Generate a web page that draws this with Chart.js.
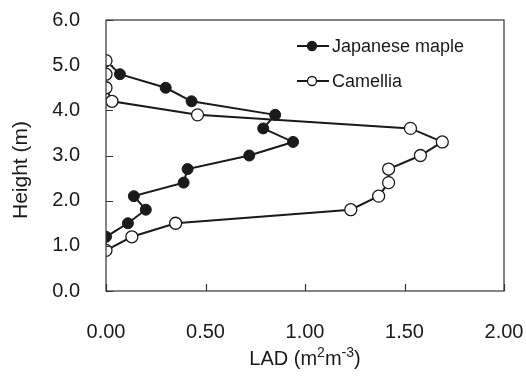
<!DOCTYPE html>
<html>
<head>
<meta charset="utf-8">
<script src="https://cdn.jsdelivr.net/npm/chart.js@4/dist/chart.umd.min.js"></script>
<style>
  html, body { margin: 0; padding: 0; background: #fff; }
  #wrap { width: 526px; height: 378px; position: relative; }
</style>
</head>
<body>
<div id="wrap"><canvas id="c"></canvas></div>
<script>
// LAD profiles, heights in m
const heights = [5.1, 4.8, 4.5, 4.2, 3.9, 3.6, 3.3, 3.0, 2.7, 2.4, 2.1, 1.8, 1.5, 1.2, 0.9];
const mapleLAD = [0.00, 0.07, 0.30, 0.43, 0.85, 0.79, 0.94, 0.72, 0.41, 0.39, 0.14, 0.20, 0.11, 0.00, 0.00];
const camelliaLAD = [0.00, 0.00, 0.00, 0.03, 0.46, 1.53, 1.69, 1.58, 1.42, 1.42, 1.37, 1.23, 0.35, 0.13, 0.00];
const xTicks = [0, 0.5, 1.0, 1.5, 2.0];
const yTicks = [0, 1, 2, 3, 4, 5, 6];
const seriesNames = ['Japanese maple', 'Camellia'];
// x title pieces, superscripts flagged
const xTitle = [['LAD (m', false], ['2', true], ['m', false], ['-3', true], [')', false]];
const yTitle = 'Height (m)';

const FONT = "'Liberation Sans', Arial, sans-serif";
const INK = '#1a1a1a';

function toPoints(xs) {
  return xs.map((v, i) => ({ x: v, y: heights[i] }));
}

// tick label paddings would otherwise push the plot area in
function clearPadding(s) {
  s.paddingTop = s.paddingBottom = s.paddingLeft = s.paddingRight = 0;
}

function drawRich(ctx, parts, cx, cy) {
  const base = '20px ' + FONT, sup = '14px ' + FONT;
  let w = 0;
  for (const [t, s] of parts) { ctx.font = s ? sup : base; w += ctx.measureText(t).width; }
  let x = cx - w / 2;
  ctx.textAlign = 'left';
  for (const [t, s] of parts) {
    ctx.font = s ? sup : base;
    ctx.fillText(t, x, s ? cy - 6 : cy);
    x += ctx.measureText(t).width;
  }
}

// box around plot, inward tick marks, axis titles and legend
const decor = {
  id: 'decor',
  afterDraw(chart) {
    const { ctx, chartArea: a, scales } = chart;
    ctx.save();
    ctx.strokeStyle = '#333';
    ctx.lineWidth = 1.2;
    ctx.strokeRect(a.left, a.top, a.right - a.left, a.bottom - a.top);
    ctx.beginPath();
    for (const v of xTicks) {
      const px = Math.round(scales.x.getPixelForValue(v)) + 0.5;
      ctx.moveTo(px, a.bottom);
      ctx.lineTo(px, a.bottom - 7);
    }
    for (const v of yTicks) {
      const py = Math.round(scales.y.getPixelForValue(v)) + 0.5;
      ctx.moveTo(a.left, py);
      ctx.lineTo(a.left + 7, py);
    }
    ctx.stroke();

    // axis titles
    ctx.fillStyle = INK;
    ctx.textBaseline = 'middle';
    drawRich(ctx, xTitle, (a.left + a.right) / 2, 359);
    ctx.save();
    ctx.translate(21, 170);
    ctx.rotate(-Math.PI / 2);
    ctx.font = '21px ' + FONT;
    ctx.textAlign = 'center';
    ctx.fillText(yTitle, 0, 0);
    ctx.restore();

    // legend
    const rows = [
      { y: 46, fill: INK },
      { y: 81, fill: '#fff' },
    ];
    ctx.font = '18px ' + FONT;
    ctx.textAlign = 'left';
    rows.forEach((r, i) => {
      ctx.strokeStyle = INK;
      ctx.lineWidth = 2;
      ctx.beginPath();
      ctx.moveTo(297, r.y);
      ctx.lineTo(329, r.y);
      ctx.stroke();
      ctx.beginPath();
      ctx.arc(312, r.y, 4.5, 0, Math.PI * 2);
      ctx.fillStyle = r.fill;
      ctx.fill();
      ctx.lineWidth = 1.3;
      ctx.stroke();
      ctx.fillStyle = INK;
      ctx.fillText(seriesNames[i], 332, r.y + 1);
    });
    ctx.restore();
  }
};

new Chart(document.getElementById('c'), {
  type: 'scatter',
  data: {
    datasets: [
      {
        label: seriesNames[0],
        data: toPoints(mapleLAD),
        showLine: true,
        borderColor: INK,
        borderWidth: 2,
        pointBackgroundColor: INK,
        pointBorderColor: INK,
        pointRadius: 5.5,
        pointBorderWidth: 1,
        order: 1,
      },
      {
        label: seriesNames[1],
        data: toPoints(camelliaLAD),
        showLine: true,
        borderColor: INK,
        borderWidth: 2,
        pointBackgroundColor: '#fff',
        pointBorderColor: INK,
        pointRadius: 6,
        pointBorderWidth: 1.3,
        order: 0,
      },
    ],
  },
  options: {
    responsive: true,
    maintainAspectRatio: false,
    animation: false,
    layout: { padding: { top: 20, right: 22, left: 0, bottom: 0 } },
    scales: {
      x: {
        type: 'linear',
        min: 0,
        max: 2,
        afterBuildTicks: (s) => { s.ticks = xTicks.map(v => ({ value: v })); },
        afterFit: (s) => { s.height = 87; clearPadding(s); },
        grid: { display: false, drawTicks: false },
        border: { display: false },
        ticks: {
          padding: 29,
          color: INK,
          font: { family: FONT, size: 20 },
          callback: (v) => Number(v).toFixed(2),
        },
      },
      y: {
        type: 'linear',
        min: 0,
        max: 6,
        afterBuildTicks: (s) => { s.ticks = yTicks.map(v => ({ value: v })); },
        afterFit: (s) => { s.width = 106; clearPadding(s); },
        grid: { display: false, drawTicks: false },
        border: { display: false },
        ticks: {
          padding: 26,
          color: INK,
          font: { family: FONT, size: 20 },
          callback: (v) => Number(v).toFixed(1),
        },
      },
    },
    plugins: {
      legend: { display: false },
      tooltip: { enabled: false },
    },
  },
  plugins: [decor],
});
</script>
</body>
</html>
